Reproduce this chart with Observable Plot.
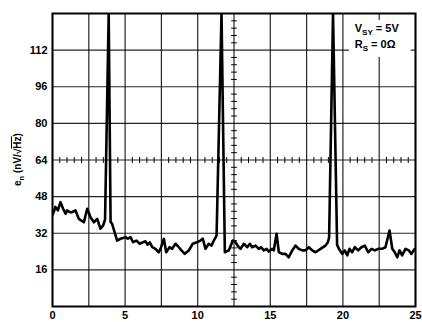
<!DOCTYPE html>
<html>
<head>
<meta charset="utf-8">
<script src="https://cdn.jsdelivr.net/npm/d3@7"></script>
<script src="https://cdn.jsdelivr.net/npm/@observablehq/plot@0.6"></script>
<style>
  html, body { margin: 0; padding: 0; background: #fff; }
  svg { display: block; }
</style>
</head>
<body>
<div id="chart"></div>
<script>
// Frequency (Hz) and voltage noise density (nV/√Hz)
const freq = [0, 0.1, 0.2, 0.37, 0.55, 0.73, 0.9, 1.0, 1.2, 1.35, 1.58, 1.81, 2.16, 2.39, 2.62, 2.85, 3.08, 3.3, 3.49, 3.62, 3.87, 4.0, 4.11, 4.45, 4.68, 5.03, 5.19, 5.37, 5.55, 5.78, 6.01, 6.24, 6.4, 6.55, 6.7, 6.87, 7.09, 7.32, 7.44, 7.67, 7.83, 8.06, 8.24, 8.47, 8.7, 8.88, 9.11, 9.39, 9.66, 9.96, 10.19, 10.35, 10.54, 10.76, 10.95, 11.11, 11.3, 11.64, 11.87, 12.14, 12.42, 12.6, 12.83, 12.95, 13.18, 13.41, 13.59, 13.75, 13.98, 14.21, 14.37, 14.55, 14.74, 14.9, 15.13, 15.24, 15.43, 15.59, 15.82, 16.05, 16.27, 16.51, 16.74, 16.96, 17.2, 17.42, 17.65, 17.89, 18.11, 18.46, 18.8, 18.96, 19.05, 19.32, 19.6, 19.72, 19.95, 20.13, 20.3, 20.45, 20.64, 20.82, 21.05, 21.28, 21.51, 21.74, 21.97, 22.2, 22.43, 22.7, 22.93, 23.21, 23.4, 23.57, 23.74, 23.9, 24.08, 24.31, 24.54, 24.72, 24.95, 25];
const noise = [40, 41.5, 43.5, 42, 45.6, 42.7, 40.5, 42, 41.2, 41.2, 42, 38.3, 36.8, 42.7, 39, 36.8, 38.3, 34, 35.4, 38, 128, 37, 36, 28.8, 29.6, 30.3, 29.6, 30.3, 28.1, 28.8, 27.4, 28.1, 28.5, 27, 28, 25.9, 25.2, 23.7, 25.2, 29.6, 23.7, 25.9, 25.2, 27.4, 25.9, 24.5, 23, 24.5, 27.4, 28.1, 28.8, 29.6, 25.2, 27.4, 26.6, 28.8, 31, 128, 23.7, 24.5, 28.8, 28.1, 25.9, 25.2, 27.4, 25.9, 27.4, 25.9, 26.6, 25.2, 25.9, 24.5, 25.2, 24, 25.2, 24.5, 31.8, 23.7, 23, 23, 21.5, 24.5, 26.6, 25.2, 24.5, 24.5, 25.9, 24.5, 23.7, 25.2, 26.6, 28.1, 30, 128, 27, 25.2, 23, 24.5, 22.3, 25.2, 23.7, 25.9, 24.5, 25.9, 26.6, 23.7, 25.2, 24.5, 25.2, 25.2, 25.9, 33.2, 25.2, 23.7, 21.5, 24.5, 22.3, 25.2, 24.5, 23, 25.2, 25];

// Axes / grid
const xGrid = [0, 2.5, 5, 7.5, 10, 12.5, 15, 17.5, 20, 22.5, 25];
const yGrid = [0, 16, 32, 48, 64, 80, 96, 112, 128];
const xTickLabels = [0, 5, 10, 15, 20, 25];
const yTickLabels = [16, 32, 48, 64, 80, 96, 112];
const xCenter = 12.5;
const yCenter = 64;
const minorX = d3.range(0, 25.001, 0.5).filter(v => Math.abs(v / 2.5 - Math.round(v / 2.5)) > 1e-6);
const minorY = d3.range(0, 128.001, 3.2).filter(v => Math.abs(v / 16 - Math.round(v / 16)) > 1e-6);

// Annotation box (data units)
const noteBox = [{x1: 20.45, x2: 24.7, y1: 108.8, y2: 125}];

const data = freq.map((f, i) => ({f, v: noise[i]}));

const plot = Plot.plot({
  width: 422,
  height: 322,
  marginLeft: 52,
  marginRight: 7,
  marginTop: 13,
  marginBottom: 16,
  style: {fontFamily: "'Liberation Sans', Arial, sans-serif", fontSize: "11px", fontWeight: "bold", color: "#000", background: "#fff"},
  x: {domain: [0, 25]},
  y: {domain: [0, 128]},
  marks: [
    Plot.ruleX(xGrid, {stroke: "#000", strokeWidth: 1.2, strokeOpacity: 0.85}),
    Plot.ruleY(yGrid, {stroke: "#000", strokeWidth: 1.2, strokeOpacity: 0.85}),
    Plot.link(minorX, {x1: d => d, x2: d => d, y1: yCenter - 1.3, y2: yCenter + 1.3, stroke: "#000", strokeWidth: 1}),
    Plot.link(minorY, {y1: d => d, y2: d => d, x1: xCenter - 0.2, x2: xCenter + 0.2, stroke: "#000", strokeWidth: 1}),
    Plot.line(data, {x: "f", y: "v", stroke: "#000", strokeWidth: 2.6, strokeLinejoin: "round", clip: true}),
    Plot.rect(noteBox, {x1: "x1", x2: "x2", y1: "y1", y2: "y2", fill: "#fff"}),
    Plot.frame({stroke: "#000", strokeWidth: 2}),
    Plot.axisX(xTickLabels, {tickSize: 0, tickPadding: 5, fontWeight: "bold", fontSize: 11, label: null}),
    Plot.axisY(yTickLabels, {tickSize: 0, tickPadding: 5, fontWeight: "bold", fontSize: 11, label: null})
  ]
});

document.getElementById("chart").appendChild(plot);

const sx = plot.scale("x");
const sy = plot.scale("y");
const svg = d3.select(plot);
const font = "'Liberation Sans', Arial, sans-serif";

// Annotation text with subscripts
function subText(x, y, main, sub, rest) {
  const t = svg.append("text")
    .attr("x", x).attr("y", y)
    .attr("text-anchor", "start")
    .attr("font-family", font).attr("font-weight", "bold").attr("font-size", 11)
    .attr("fill", "#000");
  t.append("tspan").text(main);
  t.append("tspan").attr("font-size", 8).attr("dy", 3).text(sub);
  t.append("tspan").attr("dy", -3).text(rest);
  return t;
}
const noteX = sx.apply(20.85);
subText(noteX, sy.apply(119.5), "V", "SY", " = 5V");
subText(noteX, sy.apply(112.5), "R", "S", " = 0Ω");

// Y-axis label e_n (nV/√Hz)
const yl = svg.append("text")
  .attr("transform", `translate(21,${(sy.apply(0) + sy.apply(128)) / 2}) rotate(-90)`)
  .attr("text-anchor", "middle")
  .attr("font-family", font).attr("font-weight", "bold").attr("font-size", 10)
  .attr("fill", "#000");
yl.append("tspan").text("e");
yl.append("tspan").attr("font-size", 7.5).attr("dy", 2.5).text("n");
yl.append("tspan").attr("dy", -2.5).text(" (nV/√");
yl.append("tspan").attr("text-decoration", "overline").text("Hz");
yl.append("tspan").text(")");
</script>
</body>
</html>
